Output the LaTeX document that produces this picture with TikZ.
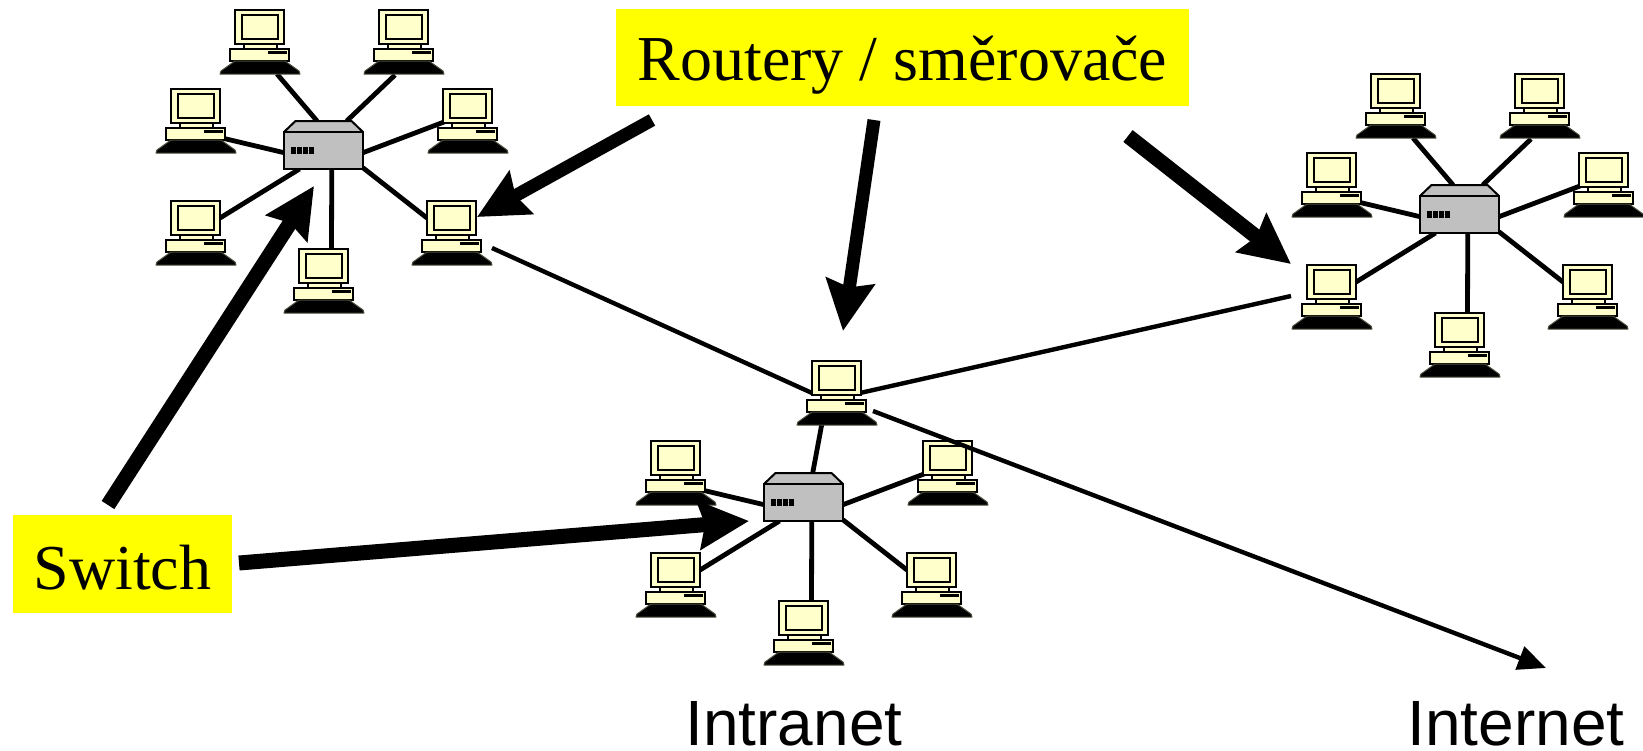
\documentclass[tikz,border=0pt]{standalone}
\usepackage{fontspec}
\setmainfont{Liberation Serif}
\newfontfamily\labelsans{Liberation Sans}
\usetikzlibrary{arrows.meta}
\definecolor{pccream}{HTML}{FFFFCC}
\definecolor{hubgrey}{HTML}{C0C0C0}
\definecolor{calloutyellow}{HTML}{FFFF00}
\tikzset{
    pcbox/.style = {rectangle, inner sep=0pt, outer sep=0pt, minimum width=40pt, minimum height=32pt},
    hubbox/.style = {rectangle, inner sep=0pt, outer sep=0pt, minimum width=39.5pt, minimum height=24pt},
    link/.style = {line width=2.4pt},
    wanlink/.style = {line width=2.2pt},
    bigarrow/.style = {line width=#1, -{Stealth[length=25pt,width=24pt,inset=3pt]}},
    callout/.style = {rectangle, fill=calloutyellow, inner sep=0pt, outer sep=0pt, font=\fontsize{32}{34}\selectfont},
    sitelabel/.style = {inner sep=0pt, font=\labelsans\fontsize{32}{34}\selectfont},
    pc/.pic = {
        \draw [line width=0.9pt, fill=pccream] (-16,2) rectangle (17,7);
        \draw [line width=1pt, fill=pccream] (-25,-32) rectangle (24,2);
        \draw [line width=1pt, fill=pccream] (-18,-27) rectangle (18,-3);
        \draw [line width=1pt, fill=pccream] (-30,7) rectangle (29,19);
        \fill [color=black] (8,9) rectangle (27,12);
        \draw [line width=0.5pt, draw=black!70!pccream, fill=black, line join=round]
            (-25,19) -- (25,19) -- (39,29) -- (40,32) -- (-40,32) -- (-39,29) -- cycle;
    },
    hubpic/.pic = {
        \draw [line width=1pt, fill=hubgrey, line join=round] (-39.5,-13) -- (-28,-24) -- (28,-24) -- (39.5,-13) -- cycle;
        \draw [line width=1pt, fill=hubgrey] (-39.5,-13) rectangle (39.5,24);
        \foreach \led in {0,6,12,18} {
            \fill [color=black] (-32.5+\led,2) rectangle (-27.5+\led,9);
        }
    }
}
\begin{document}
\begin{tikzpicture}[x=0.5pt,y=-0.5pt]
    \useasboundingbox (0,0) rectangle (1643,750);
    % switches
    \node [hubbox] (a0) at (323.5,145) {};
    \node [hubbox] (b0) at (1459.5,209) {};
    \node [hubbox] (c0) at (803.5,497) {};
    % top pc of the intranet star
    \node [pcbox] (c1) at ([shift={(33.5,-104)}]c0.center) {};
    % pcs placed around the switches, name/offset/link start/switch angle
    \foreach \st in {a,b,c} {
        \foreach \p/\ox/\oy/\sx/\sy/\ang in {3/-127.5/-24/26/17/191, 4/144.5/-24/-24/1/-11.4, 5/-127.5/88/24/-15/225.6,
                6/128.5/88/-25/-15/-30, 7/0.5/136/7.5/-32/-71.6} {
            \node [pcbox] (\st\p) at ([shift={(\ox,\oy)}]\st0.center) {};
            \draw [link] ([shift={(\sx,\sy)}]\st\p.center) -- (\st0.\ang);
            \pic at (\st\p) {pc};
        }
    }
    \foreach \st in {a,b} {
        \foreach \p/\ox/\oy/\sx/\sy/\ang in {1/-63.5/-103/17/32/105, 2/80.5/-103/-9/33/46} {
            \node [pcbox] (\st\p) at ([shift={(\ox,\oy)}]\st0.center) {};
            \draw [link] ([shift={(\sx,\sy)}]\st\p.center) -- (\st0.\ang);
            \pic at (\st\p) {pc};
        }
    }
    % links between routers
    \coordinate (inet) at (1546,668);
    \draw [link] ([shift={(-15,30)}]c1.center) -- (c0.69);
    \draw [wanlink] ([shift={(40,15)}]a6.center) -- ([shift={(-25,0)}]c1.center);
    \draw [wanlink] ([shift={(23,0)}]c1.center) -- ([shift={(-41,-1)}]b5.center);
    \draw [wanlink, -{Stealth[length=14pt,width=12pt,inset=0pt]}] ([shift={(36,18)}]c1.center) -- (inet);
    \pic at (c1) {pc};
    \foreach \st in {a,b,c} {
        \pic at (\st0) {hubpic};
    }
    % labels
    \node [callout, minimum width=286.5pt, text height=35.5pt, text depth=13pt] (router) at (902.5,57.5) {Routery / směrovače};
    \node [callout, minimum width=109.5pt, text height=37pt, text depth=12pt] (switch) at (122.5,564) {Switch};
    \node [sitelabel, anchor=base] (intranet) at (794,745) {Intranet};
    \node [sitelabel, anchor=base] (internet) at (1516,745) {Internet};
    % arrows from the labels
    \draw [bigarrow=6.5pt] ([shift={(-250.5,62.5)}]router.center) -- ([shift={(25,-16)}]a6.center);
    \draw [bigarrow=6.5pt] ([shift={(-28.5,62.5)}]router.center) -- ([shift={(6,-62)}]c1.center);
    \draw [bigarrow=7.5pt] ([shift={(225.5,78.5)}]router.center) -- ([shift={(-41,-33)}]b5.center);
    \draw [bigarrow=7.5pt] ([shift={(-14.5,-59)}]switch.center) -- ([shift={(-9.5,41)}]a0.center);
    \draw [bigarrow=7.5pt] ([shift={(116.5,-1)}]switch.center) -- ([shift={(-54.5,24)}]c0.center);
\end{tikzpicture}
\end{document}
